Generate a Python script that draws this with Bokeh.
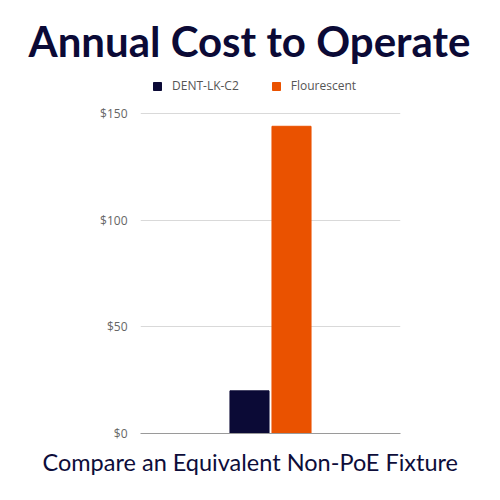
from bokeh.plotting import figure
from bokeh.models import FactorRange, Range1d, Legend, LegendItem, Title, NumeralTickFormatter, FixedTicker, ColumnDataSource
from bokeh.embed import file_html
from bokeh.resources import INLINE

series = ["DENT-LK-C2", "Flourescent"]
costs = [20, 144]
colors = ["#0b0a36", "#ea5200"]
y_ticks = [0, 50, 100, 150]

src = ColumnDataSource(dict(x=series, top=costs, color=colors))

p = figure(width=492, height=492, output_backend="svg", toolbar_location=None,
           x_range=FactorRange(factors=series, range_padding=2.095),
           y_range=Range1d(0, 166.4),
           min_border_left=140, min_border_right=92, min_border_top=0, min_border_bottom=59)

r = p.vbar(x="x", top="top", width=0.93, color="color", source=src)

p.title.text = "Annual Cost to Operate"
p.title.text_font = "Lato"
p.title.text_font_size = "42px"
p.title.text_font_style = "bold"
p.title.text_color = "#0b0a36"
p.title.align = "left"
p.title.offset = -112
p.title.standoff = 26

legend = Legend(items=[LegendItem(label=series[i], renderers=[r], index=i) for i in range(2)],
                orientation="horizontal", location=(12, 339),
                label_text_font="Open Sans", label_text_font_size="12px", label_text_color="#555555",
                glyph_width=10, glyph_height=10, label_standoff=10, spacing=32, border_line_color=None,
                background_fill_alpha=0, padding=0, margin=0)
p.add_layout(legend)

sub = Title(text="Compare an Equivalent Non-PoE Fixture", align="left", offset=-98, standoff=13,
            text_font="Lato", text_font_size="23.5px", text_font_style="normal", text_color="#0d0d3a")
p.add_layout(sub, "below")

p.xaxis.major_label_text_font_size = "0px"
p.xaxis.major_tick_line_color = None
p.xaxis.minor_tick_line_color = None
p.xaxis.axis_line_color = "#9a9a9a"
p.xgrid.grid_line_color = None

p.yaxis.ticker = FixedTicker(ticks=y_ticks)
p.yaxis.formatter = NumeralTickFormatter(format="$0")
p.yaxis.axis_line_color = None
p.yaxis.major_tick_line_color = None
p.yaxis.minor_tick_line_color = None
p.yaxis.major_label_standoff = 7
p.yaxis.major_label_text_font = "Open Sans"
p.yaxis.major_label_text_font_size = "12px"
p.yaxis.major_label_text_color = "#666666"
p.ygrid.grid_line_color = "#d9d9d9"
p.outline_line_color = None

open("out.html", "w").write(file_html(p, INLINE))
